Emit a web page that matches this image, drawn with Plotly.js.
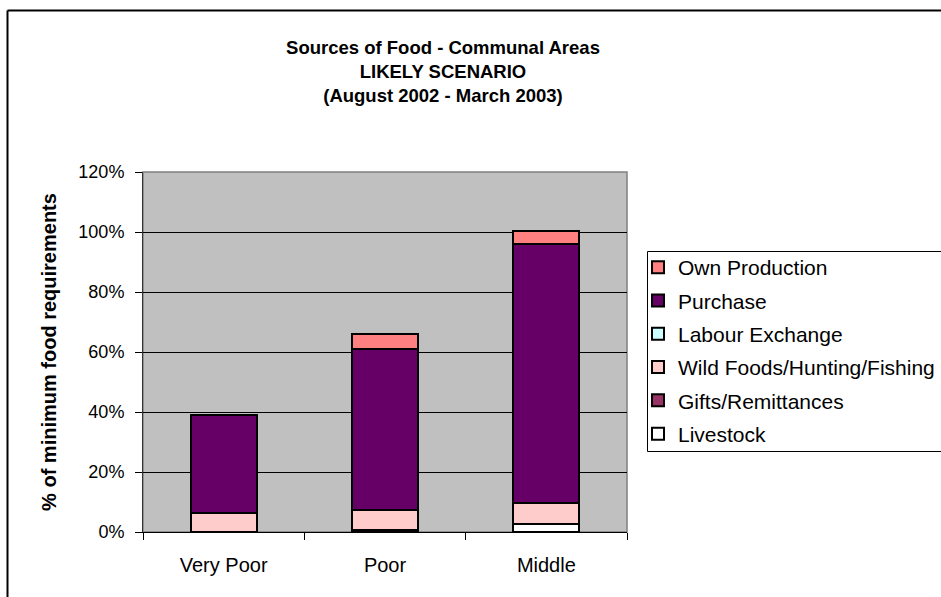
<!DOCTYPE html>
<html>
<head>
<meta charset="utf-8">
<script src="https://cdn.plot.ly/plotly-3.0.1.min.js"></script>
<style>
html,body{margin:0;padding:0;background:#fff;}
#chart{width:941px;height:597px;}
</style>
</head>
<body>
<div id="chart"></div>
<script>
// Categories (wealth groups)
var categories = ["Very Poor", "Poor", "Middle"];

// Series values (% of minimum food requirements), stacked bottom -> top
var livestock      = [0, 0, 2.7];
var gifts          = [0, 0.6, 0];
var wildFoods      = [6.5, 6.9, 7.0];
var labourExchange = [0, 0, 0];
var purchase       = [32.6, 53.4, 86.3];
var ownProduction  = [0, 5.2, 4.5];

var seriesNames = ["Livestock", "Gifts/Remittances", "Wild Foods/Hunting/Fishing",
                   "Labour Exchange", "Purchase", "Own Production"];
var seriesValues = [livestock, gifts, wildFoods, labourExchange, purchase, ownProduction];
var seriesColors = ["#FFFFFF", "#993366", "#FFCCCC", "#CCFFFF", "#660066", "#FF8080"];

var yTickVals = [0, 20, 40, 60, 80, 100, 120];

var FONT = "Liberation Sans, Arial, sans-serif";

var traces = seriesNames.map(function (name, i) {
  return {
    type: "bar",
    name: name,
    x: categories,
    y: seriesValues[i],
    legendgroup: "g" + i,
    legendrank: seriesNames.length - i,
    marker: { color: seriesColors[i], line: { color: "#000000", width: 2 } },
    hoverinfo: "skip"
  };
});

// plot area in px: x 143..627, y 172..532
function px2x(p) { return (p - 143) / 484; }
function py2y(p) { return (532 - p) / 360; }

var layout = {
  width: 941,
  height: 597,
  margin: { l: 143, r: 314, t: 172, b: 65, pad: 0, autoexpand: false },
  paper_bgcolor: "#FFFFFF",
  plot_bgcolor: "#C0C0C0",
  font: { family: FONT, size: 20, color: "#000000" },
  barmode: "stack",
  bargap: 0.59,
  showlegend: true,
  title: {
    text: "<b>Sources of Food - Communal Areas<br>LIKELY SCENARIO<br>(August 2002 - March 2003)</b>",
    font: { family: FONT, size: 18.5, color: "#000000" },
    x: 443 / 941, xref: "container", xanchor: "center",
    y: 1 - 54 / 597, yref: "container", yanchor: "top"
  },
  xaxis: {
    type: "category",
    showgrid: false,
    showline: true, linecolor: "#000000", linewidth: 1,
    ticks: "outside", tickson: "boundaries", ticklen: 7, tickcolor: "#000000", tickwidth: 1,
    ticklabelstandoff: 15,
    tickfont: { family: FONT, size: 20, color: "#000000" },
    zeroline: false,
    fixedrange: true
  },
  yaxis: {
    range: [0, 120],
    tickvals: yTickVals,
    ticktext: yTickVals.map(function (v) { return v + "%"; }),
    showgrid: true, gridcolor: "#000000", gridwidth: 1,
    showline: true, linecolor: "#333333", linewidth: 1,
    ticks: "outside", ticklen: 7, tickcolor: "#000000", tickwidth: 1,
    ticklabelstandoff: 7,
    tickfont: { family: FONT, size: 18, color: "#000000" },
    zeroline: false,
    fixedrange: true,
    title: {
      text: "<b>% of minimum food requirements</b>",
      font: { family: FONT, size: 20, color: "#000000" },
      standoff: 16
    }
  },
  legend: {
    x: px2x(638), xanchor: "left",
    y: py2y(247), yanchor: "top",
    bgcolor: "rgba(0,0,0,0)",
    borderwidth: 0,
    font: { family: FONT, size: 21, color: "#000000" },
    traceorder: "grouped",
    tracegroupgap: 3,
    itemwidth: 30
  },
  shapes: [
    // plot area border (gray)
    { type: "rect", xref: "paper", yref: "paper", x0: 0, x1: 1, y0: 0, y1: 1,
      line: { color: "#808080", width: 1.5 }, fillcolor: "rgba(0,0,0,0)", layer: "below" },
    // legend box (runs past the right edge of the picture)
    { type: "rect", xref: "paper", yref: "paper", x0: px2x(647.5), x1: px2x(1000), y0: py2y(451.5), y1: py2y(251.5),
      line: { color: "#000000", width: 1 }, fillcolor: "#FFFFFF", layer: "below" },
    // outer chart border (left & top visible)
    { type: "line", xref: "paper", yref: "paper", x0: px2x(7.5), x1: px2x(7.5), y0: py2y(10.5), y1: py2y(700),
      line: { color: "#000000", width: 2 } },
    { type: "line", xref: "paper", yref: "paper", x0: px2x(7.5), x1: px2x(1100), y0: py2y(10.5), y1: py2y(10.5),
      line: { color: "#000000", width: 2 } }
  ]
};

Plotly.newPlot("chart", traces, layout, { displayModeBar: false, staticPlot: true });
</script>
</body>
</html>
